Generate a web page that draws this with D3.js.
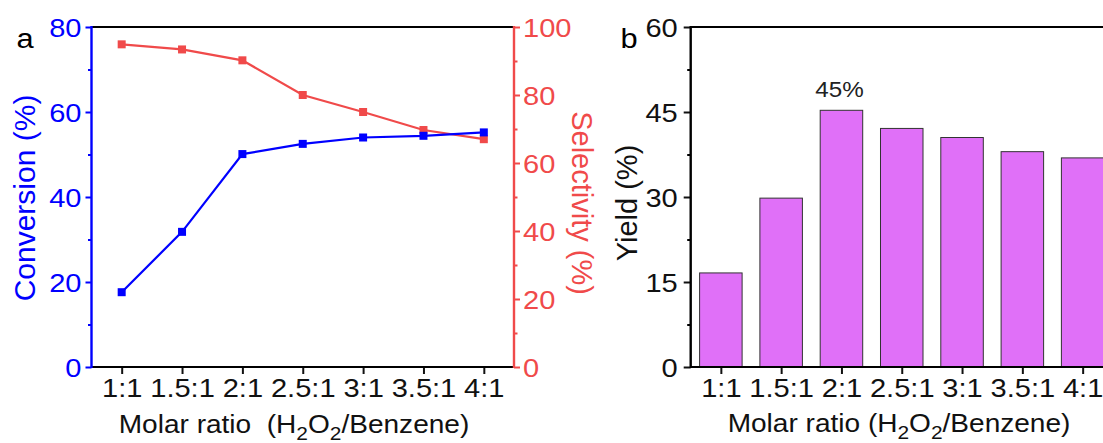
<!DOCTYPE html>
<html><head><meta charset="utf-8">
<script src="https://cdn.jsdelivr.net/npm/d3@7"></script>
<style>html,body{margin:0;padding:0;background:#fff;}svg{display:block;}</style>
</head><body>
<svg id="chart" width="1103" height="443"></svg>
<script>
const categories = ["1:1","1.5:1","2:1","2.5:1","3:1","3.5:1","4:1"];
const conversion = [17.6, 31.8, 50.1, 52.5, 54.0, 54.4, 55.2];
const selectivity = [94.9, 93.4, 90.2, 80.0, 75.0, 69.7, 67.0];
const yieldVals = [16.6, 29.8, 45.3, 42.1, 40.5, 38.0, 36.9];
const convTicks = [0, 20, 40, 60, 80];
const convMinor = [10, 30, 50, 70];
const selTicks = [0, 20, 40, 60, 80, 100];
const selMinor = [10, 30, 50, 70, 90];
const yieldTicks = [0, 15, 30, 45, 60];
const yieldMinor = [7.5, 22.5, 37.5, 52.5];
const peakLabel = "45%";

const BLUE = "#0000FF", RED = "#F04A4A", BAR = "#E070F8";
const FONT = "'Liberation Sans', Arial, sans-serif";
const TS = 1.14;  // horizontal stretch of tick labels
const TT = 1.1;   // horizontal stretch of x titles
const svg = d3.select("#chart");

function hText(g, x, y, txt, size, color, anchor, s) {
  return g.append("text")
    .attr("transform", `translate(${x},${y}) scale(${s},1)`)
    .attr("text-anchor", anchor).attr("font-family", FONT)
    .attr("font-size", size).attr("fill", color).text(txt);
}
function vText(g, x, y, txt, size, color, rot) {
  return g.append("text")
    .attr("transform", `translate(${x},${y}) rotate(${rot})`)
    .attr("text-anchor", "middle").attr("font-family", FONT)
    .attr("font-size", size).attr("fill", color).text(txt);
}
function xTitle(g, x, y, gap) {
  const t = g.append("text")
    .attr("transform", `translate(${x},${y}) scale(${TT},1)`)
    .attr("text-anchor", "middle").attr("font-family", FONT)
    .attr("font-size", 25.5).attr("fill", "#111");
  t.append("tspan").text("Molar ratio" + gap + "(H");
  t.append("tspan").attr("font-size", 19).attr("dy", 7).text("2");
  t.append("tspan").attr("dy", -7).text("O");
  t.append("tspan").attr("font-size", 19).attr("dy", 7).text("2");
  t.append("tspan").attr("dy", -7).text("/Benzene)");
}
function styleAxis(ax, color, side, gap) {
  ax.select(".domain").remove();
  ax.selectAll(".tick line").attr("stroke", color).attr("stroke-width", 2);
  ax.selectAll(".tick text").attr("fill", color).attr("font-family", FONT)
    .attr("font-size", 25.5).attr("transform", `scale(${TS},1)`);
  if (side === "left") ax.selectAll(".tick text").attr("x", -gap / TS).attr("dy", "0.36em");
  if (side === "right") ax.selectAll(".tick text").attr("x", gap / TS).attr("dy", "0.36em");
  if (side === "bottom") ax.selectAll(".tick text").attr("y", gap).attr("dy", "0.72em");
}

// ---------- Panel a ----------
const A = {L: 91.5, R: 514, T: 27, B: 367};
const ga = svg.append("g");
const xa = d3.scalePoint().domain(categories).range([A.L, A.R]).padding(0.5);
const yc = d3.scaleLinear().domain([0, 80]).range([A.B, A.T]);
const ys = d3.scaleLinear().domain([0, 100]).range([A.B, A.T]);

ga.append("g").attr("transform", `translate(${A.L},0)`)
  .call(d3.axisLeft(yc).tickValues(convMinor).tickSize(3.5).tickFormat(""))
  .call(a => { a.select(".domain").remove(); a.selectAll("line").attr("stroke", BLUE).attr("stroke-width", 2); });
ga.append("g").attr("transform", `translate(${A.R},0)`)
  .call(d3.axisRight(ys).tickValues(selMinor).tickSize(3.5).tickFormat(""))
  .call(a => { a.select(".domain").remove(); a.selectAll("line").attr("stroke", RED).attr("stroke-width", 2); });
ga.append("g").attr("transform", `translate(${A.L},0)`)
  .call(d3.axisLeft(yc).tickValues(convTicks).tickSize(6).tickFormat(d3.format("d")))
  .call(a => styleAxis(a, BLUE, "left", 10));
ga.append("g").attr("transform", `translate(${A.R},0)`)
  .call(d3.axisRight(ys).tickValues(selTicks).tickSize(6).tickFormat(d3.format("d")))
  .call(a => styleAxis(a, RED, "right", 9));
ga.append("g").attr("transform", `translate(0,${A.B})`)
  .call(d3.axisBottom(xa).tickSize(7))
  .call(a => { styleAxis(a, "#111", "bottom", 12); a.selectAll(".tick line").attr("stroke", "#111"); a.selectAll(".tick text").attr("fill", "#111"); });

ga.append("line").attr("x1", A.L).attr("x2", A.R).attr("y1", A.T).attr("y2", A.T).attr("stroke", "#000").attr("stroke-width", 2);
ga.append("line").attr("x1", A.L).attr("x2", A.R).attr("y1", A.B).attr("y2", A.B).attr("stroke", "#000").attr("stroke-width", 2);
ga.append("line").attr("x1", A.L).attr("x2", A.L).attr("y1", A.T - 1).attr("y2", A.B + 1).attr("stroke", BLUE).attr("stroke-width", 2.4);
ga.append("line").attr("x1", A.R).attr("x2", A.R).attr("y1", A.T - 1).attr("y2", A.B + 1).attr("stroke", RED).attr("stroke-width", 2.4);

const lineC = d3.line().x((d, i) => xa(categories[i])).y(d => yc(d));
const lineS = d3.line().x((d, i) => xa(categories[i])).y(d => ys(d));
ga.append("path").datum(selectivity).attr("d", lineS).attr("fill", "none").attr("stroke", RED).attr("stroke-width", 2.2);
ga.selectAll(".ms").data(selectivity).join("rect")
  .attr("x", (d, i) => xa(categories[i]) - 4).attr("y", d => ys(d) - 4)
  .attr("width", 8).attr("height", 8).attr("fill", RED);
ga.append("path").datum(conversion).attr("d", lineC).attr("fill", "none").attr("stroke", BLUE).attr("stroke-width", 2.2);
ga.selectAll(".mc").data(conversion).join("rect")
  .attr("x", (d, i) => xa(categories[i]) - 4).attr("y", d => yc(d) - 4)
  .attr("width", 8).attr("height", 8).attr("fill", BLUE);

hText(ga, 25, 48, "a", 28, "#000", "middle", TT);
vText(ga, 35, 198, "Conversion (%)", 30, BLUE, -90);
vText(ga, 572, 203, "Selectivity (%)", 29, RED, 90);
xTitle(ga, 294, 433, "\u00a0\u00a0");

// ---------- Panel b ----------
const Bp = {L: 690.7, T: 27, B: 367};
const step = 60.3;
Bp.R = Bp.L + step * categories.length;
const gb = svg.append("g");
const xb = d3.scalePoint().domain(categories).range([Bp.L, Bp.R]).padding(0.5);
const yy = d3.scaleLinear().domain([0, 60]).range([Bp.B, Bp.T]);
const bw = xb.step() * 0.705;

gb.selectAll(".bar").data(yieldVals).join("rect")
  .attr("x", (d, i) => xb(categories[i]) - bw / 2).attr("y", d => yy(d))
  .attr("width", bw).attr("height", d => yy(0) - yy(d))
  .attr("fill", BAR).attr("stroke", "#333").attr("stroke-width", 1);

gb.append("g").attr("transform", `translate(${Bp.L},0)`)
  .call(d3.axisLeft(yy).tickValues(yieldMinor).tickSize(3.5).tickFormat(""))
  .call(a => { a.select(".domain").remove(); a.selectAll("line").attr("stroke", "#000").attr("stroke-width", 2); });
gb.append("g").attr("transform", `translate(${Bp.L},0)`)
  .call(d3.axisLeft(yy).tickValues(yieldTicks).tickSize(7).tickFormat(d3.format("d")))
  .call(a => styleAxis(a, "#111", "left", 13));
gb.append("g").attr("transform", `translate(0,${Bp.B})`)
  .call(d3.axisBottom(xb).tickSize(7))
  .call(a => styleAxis(a, "#111", "bottom", 12));

gb.append("line").attr("x1", Bp.L).attr("x2", Bp.R).attr("y1", Bp.T).attr("y2", Bp.T).attr("stroke", "#000").attr("stroke-width", 2);
gb.append("line").attr("x1", Bp.L).attr("x2", Bp.R).attr("y1", Bp.B).attr("y2", Bp.B).attr("stroke", "#000").attr("stroke-width", 2);
gb.append("line").attr("x1", Bp.L).attr("x2", Bp.L).attr("y1", Bp.T - 1).attr("y2", Bp.B + 1).attr("stroke", "#000").attr("stroke-width", 2.4);

const peakIdx = yieldVals.indexOf(d3.max(yieldVals));
hText(gb, xb(categories[peakIdx]) - 2, yy(yieldVals[peakIdx]) - 13, peakLabel, 22, "#222", "middle", TT);
hText(gb, 629, 48, "b", 28, "#000", "middle", TT);
vText(gb, 637, 203, "Yield (%)", 29, "#111", -90);
xTitle(gb, 899, 432, " ");
</script>
</body></html>
